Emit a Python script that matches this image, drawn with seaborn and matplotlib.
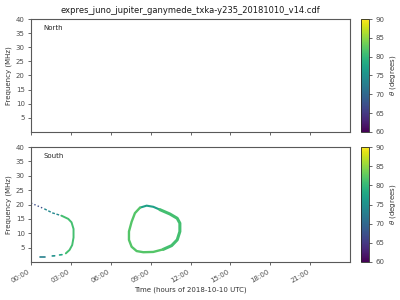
import numpy as np
import pandas as pd
import matplotlib
matplotlib.use("Agg")
import matplotlib.pyplot as plt
import seaborn as sns

sns.set_style("ticks")
plt.rcParams['font.family'] = ['DejaVu Sans']

TITLE = "expres_juno_jupiter_ganymede_txka-y235_20181010_v14.cdf"
XTICKS = [0, 3, 6, 9, 12, 15, 18, 21]
XTICKLABELS = ["00:00", "03:00", "06:00", "09:00", "12:00", "15:00", "18:00", "21:00"]
YTICKS = [5, 10, 15, 20, 25, 30, 35, 40]
CTICKS = [60, 65, 70, 75, 80, 85, 90]

# South hemisphere emission traces: (time h, freq MHz), theta (deg)
seg1_t = [0.0, 0.5, 1.0]
seg1_f = [20.5, 19.5, 18.5]
seg1_theta = 67
seg2_t = [1.0, 1.6, 2.3]
seg2_f = [18.5, 17.1, 16.1]
seg2_theta = 74
seg3_t = [2.3, 2.8, 3.05, 3.2, 3.2, 3.1, 2.9, 2.62]
seg3_f = [16.1, 15.0, 13.8, 11.5, 8.5, 5.9, 4.2, 3.0]
seg3_theta = 81
seg4_t = [0.70, 1.03]
seg4_f = [1.6, 1.6]
seg4_theta = 73
seg5_t = [1.6, 1.78]
seg5_f = [2.1, 2.15]
seg5_theta = 75
seg6_t = [2.15, 2.33]
seg6_f = [2.45, 2.55]
seg6_theta = 78

loopA_t = [8.2, 8.7, 9.2, 9.7]
loopA_f = [18.9, 19.6, 19.2, 18.2]
loopA_theta = 77
loopB_t = [9.7, 10.45, 11.0, 11.2, 11.2, 11.0, 10.58, 9.95]
loopB_f = [18.2, 16.7, 15.2, 13.5, 10.6, 7.7, 5.7, 4.4]
loopB_theta = 81
loopC_t = [9.95, 9.2, 8.45, 7.95, 7.57, 7.37, 7.37, 7.57, 7.82, 8.2]
loopC_f = [4.4, 3.5, 3.4, 3.8, 5.3, 7.7, 10.6, 14.0, 17.0, 18.9]
loopC_theta = 82

segments = [
    (seg1_t, seg1_f, seg1_theta, 1.0, (1, 1.6)),
    (seg2_t, seg2_f, seg2_theta, 1.0, (2, 1.2)),
    (seg3_t, seg3_f, seg3_theta, 1.4, None),
    (seg4_t, seg4_f, seg4_theta, 1.2, None),
    (seg5_t, seg5_f, seg5_theta, 1.2, None),
    (seg6_t, seg6_f, seg6_theta, 1.2, None),
    (loopA_t, loopA_f, loopA_theta, 1.5, None),
    (loopB_t, loopB_f, loopB_theta, 2.2, None),
    (loopC_t, loopC_f, loopC_theta, 1.7, None),
]

cmap = plt.get_cmap("viridis")
norm = matplotlib.colors.Normalize(vmin=60, vmax=90)

fig = plt.figure(figsize=(4, 3), dpi=100)
W, H = 400, 300
def rect(x0, y0, x1, y1):
    return [x0 / W, 1 - y1 / H, (x1 - x0) / W, (y1 - y0) / H]

ax_n = fig.add_axes(rect(31, 19, 350, 132))
ax_s = fig.add_axes(rect(31, 147, 350, 262))
cax_n = fig.add_axes(rect(361, 19, 369, 132))
cax_s = fig.add_axes(rect(361, 147, 369, 262))

for t, f, th, lw, dash in segments:
    df = pd.DataFrame({"time": t, "freq": f})
    line = sns.lineplot(data=df, x="time", y="freq", sort=False, ax=ax_s,
                        color=cmap(norm(th)), lw=lw, estimator=None)
    if dash is not None:
        line.lines[-1].set_dashes(dash)

FS = 5
for ax, lab in [(ax_n, "North"), (ax_s, "South")]:
    ax.set_xlim(0, 24)
    ax.set_ylim(0, 40)
    ax.set_xticks(XTICKS)
    ax.set_yticks(YTICKS)
    ax.set_yticklabels([str(v) for v in YTICKS])
    ax.tick_params(labelsize=FS, length=2.5, width=0.6, colors='.3', pad=2)
    for sp in ax.spines.values():
        sp.set_visible(True)
        sp.set_linewidth(0.8)
        sp.set_color('.35')
    ax.set_ylabel("Frequency (MHz)", fontsize=FS, color='.2', labelpad=3)
    ax.text(0.04, 0.9, lab, transform=ax.transAxes, fontsize=FS, color='.15')

ax_n.set_xticklabels([])
ax_n.set_xlabel("")
ax_s.set_xticklabels(XTICKLABELS, rotation=30, ha="right")
ax_s.set_xlabel("Time (hours of 2018-10-10 UTC)", fontsize=FS, color='.2', labelpad=2)
ax_n.set_title(TITLE, fontsize=6, color='.1', pad=4)

sm = matplotlib.cm.ScalarMappable(norm=norm, cmap=cmap)
for cax in (cax_n, cax_s):
    cb = fig.colorbar(sm, cax=cax, ticks=CTICKS)
    cb.ax.tick_params(labelsize=FS, length=2.5, width=0.6, colors='.3', pad=2)
    cb.outline.set_linewidth(0.6)
    cb.set_label(r"$\theta$ (degrees)", fontsize=FS, color='.2', labelpad=3)

fig.savefig("out.png", dpi=100)
